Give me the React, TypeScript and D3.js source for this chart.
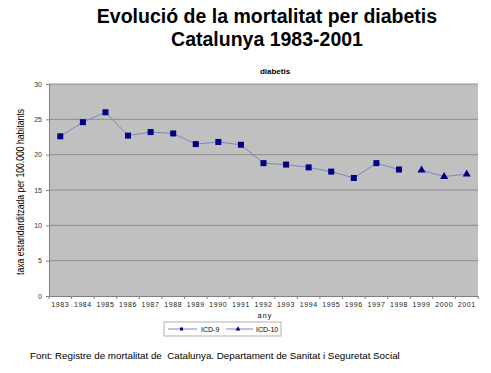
import * as d3 from "d3";
import React, { useRef, useEffect } from "react";

const years = ["1983", "1984", "1985", "1986", "1987", "1988", "1989", "1990", "1991", "1992",
  "1993", "1994", "1995", "1996", "1997", "1998", "1999", "2000", "2001"];
const icd9 = [22.6, 24.6, 26.0, 22.7, 23.2, 23.0, 21.5, 21.8, 21.4, 18.8,
  18.6, 18.2, 17.6, 16.7, 18.8, 17.9];
const icd10Years = ["1999", "2000", "2001"];
const icd10 = [17.8, 16.9, 17.25];
const yTicks = [0, 5, 10, 15, 20, 25, 30];

export default function App() {
  const svgRef = useRef<SVGSVGElement>(null);

  useEffect(() => {
    const w = 491, h = 373;
    const svg = d3.select(svgRef.current).attr("width", w).attr("height", h);
    svg.selectAll("*").remove();

    const left = 49, right = 478, top = 84, bottom = 296;

    const x = d3.scaleBand().domain(years).range([left, right]);
    const y = d3.scaleLinear().domain([0, 30]).range([bottom, top]);

    // titles
    svg.append("text").attr("x", 267).attr("y", 23).attr("text-anchor", "middle")
      .style("font-family", "Liberation Sans, Arial").style("font-weight", "bold").style("font-size", "19.5px")
      .text("Evolució de la mortalitat per diabetis");
    svg.append("text").attr("x", 267).attr("y", 46).attr("text-anchor", "middle")
      .style("font-family", "Liberation Sans, Arial").style("font-weight", "bold").style("font-size", "19.5px")
      .text("Catalunya 1983-2001");
    svg.append("text").attr("x", 275).attr("y", 74).attr("text-anchor", "middle")
      .style("font-family", "Liberation Sans, Arial").style("font-weight", "bold").style("font-size", "8px")
      .text("diabetis");

    // plot area
    svg.append("rect").attr("x", left).attr("y", top).attr("width", right - left).attr("height", bottom - top)
      .attr("fill", "#c0c0c0");

    // gridlines
    svg.append("g").selectAll("line").data(yTicks.filter(t => t > 0)).join("line")
      .attr("x1", left).attr("x2", right)
      .attr("y1", d => y(d)).attr("y2", d => y(d))
      .attr("stroke", "#8c8c8c").attr("stroke-width", 1);

    // axes
    const yAxis = d3.axisLeft(y).tickValues(yTicks).tickSize(3).tickPadding(4);
    const gy = svg.append("g").attr("transform", `translate(${left},0)`).call(yAxis);
    gy.selectAll("path, line").attr("stroke", "#808080");
    gy.selectAll("text").style("font-family", "Liberation Sans, Arial").style("font-size", "7px")
      .attr("fill", "#333");

    const xAxis = d3.axisBottom(x).tickSize(0).tickPadding(6);
    const gx = svg.append("g").attr("transform", `translate(0,${bottom})`).call(xAxis);
    gx.select("path").attr("stroke", "#808080");
    gx.selectAll("text").style("font-family", "Liberation Sans, Arial").style("font-size", "7px")
      .style("letter-spacing", "0.6px").attr("fill", "#222");
    // between-category ticks
    svg.append("g").selectAll("line").data(years).join("line")
      .attr("x1", d => x(d)!).attr("x2", d => x(d)!)
      .attr("y1", bottom).attr("y2", bottom + 3).attr("stroke", "#808080");
    svg.append("line").attr("x1", right).attr("x2", right).attr("y1", bottom).attr("y2", bottom + 3)
      .attr("stroke", "#808080");

    // axis titles
    svg.append("text").attr("x", 265).attr("y", 318).attr("text-anchor", "middle")
      .style("font-family", "Liberation Sans, Arial").style("font-size", "7px").style("letter-spacing", "1px")
      .text("any");
    svg.append("text").attr("transform", `translate(24,192) rotate(-90)`)
      .attr("text-anchor", "middle")
      .attr("textLength", 166).attr("lengthAdjust", "spacingAndGlyphs")
      .style("font-family", "Liberation Sans, Arial").style("font-size", "11px")
      .text("taxa estandarditzada per 100.000 habitants");

    const cx = (d: string) => x(d)! + x.bandwidth() / 2;

    // ICD-9
    const pts9: [number, number][] = icd9.map((v, i) => [cx(years[i]), y(v)]);
    svg.append("path").attr("d", d3.line()(pts9)).attr("fill", "none").attr("stroke", "#7f84c0").attr("stroke-width", 1);
    svg.append("g").selectAll("rect").data(pts9).join("rect")
      .attr("x", d => d[0] - 3).attr("y", d => d[1] - 3).attr("width", 6).attr("height", 6)
      .attr("fill", "#000080");

    // ICD-10
    const pts10: [number, number][] = icd10.map((v, i) => [cx(icd10Years[i]), y(v)]);
    svg.append("path").attr("d", d3.line()(pts10)).attr("fill", "none").attr("stroke", "#7f84c0").attr("stroke-width", 1);
    const tri = d3.symbol().type(d3.symbolTriangle).size(28);
    svg.append("g").selectAll("path").data(pts10).join("path")
      .attr("d", tri).attr("transform", d => `translate(${d[0]},${d[1]})`).attr("fill", "#000080");

    // legend
    const lg = svg.append("g");
    lg.append("rect").attr("x", 164).attr("y", 322).attr("width", 117).attr("height", 14)
      .attr("fill", "white").attr("stroke", "#b0b0b0");
    lg.append("line").attr("x1", 168).attr("x2", 197).attr("y1", 329).attr("y2", 329).attr("stroke", "#7f84c0");
    lg.append("rect").attr("x", 180).attr("y", 327.5).attr("width", 3).attr("height", 3).attr("fill", "#000080");
    lg.append("text").attr("x", 201).attr("y", 331.5).style("font-family", "Liberation Sans, Arial")
      .style("font-size", "7px").text("ICD-9");
    lg.append("line").attr("x1", 226).attr("x2", 253).attr("y1", 329).attr("y2", 329).attr("stroke", "#7f84c0");
    lg.append("path").attr("d", d3.symbol().type(d3.symbolTriangle).size(10))
      .attr("transform", "translate(238,329)").attr("fill", "#000080");
    lg.append("text").attr("x", 256).attr("y", 331.5).style("font-family", "Liberation Sans, Arial")
      .style("font-size", "7px").text("ICD-10");

    // footer
    svg.append("text").attr("x", 30).attr("y", 359)
      .style("font-family", "Liberation Sans, Arial").style("font-size", "9.8px")
      .style("white-space", "pre")
      .text("Font: Registre de mortalitat de  Catalunya. Departament de Sanitat i Seguretat Social");
  }, []);

  return (
    <div style={{ position: "absolute", left: 0, top: 0 }}>
      <svg ref={svgRef}></svg>
    </div>
  );
}
